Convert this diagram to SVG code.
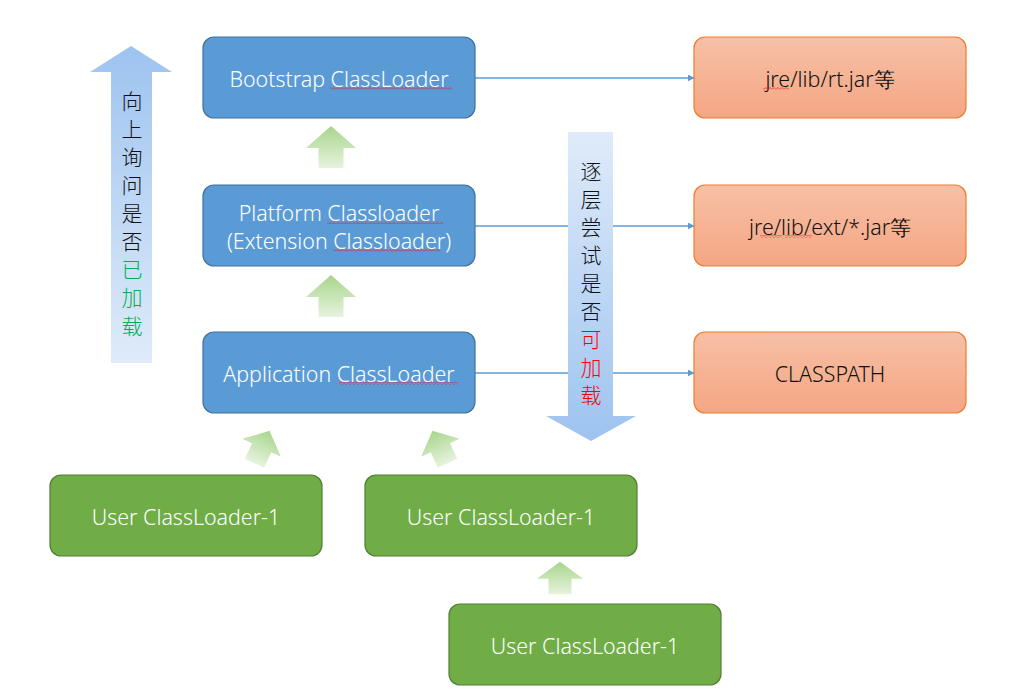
<svg xmlns="http://www.w3.org/2000/svg" width="1031" height="696" viewBox="0 0 1031 696">
<defs>
<style>
.blue{fill:#5B9BD5;stroke:#41719C;stroke-width:1.2}
.orange{fill:url(#og);stroke:#ED7D31;stroke-width:1.2}
.green{fill:#70AD47;stroke:#507E32;stroke-width:1.2}
.tw{font-family:"Noto Sans","Open Sans","Liberation Sans",sans-serif;font-size:21.4px;font-weight:300;fill:#FFFFFF;text-anchor:middle;dominant-baseline:central}
.tb{font-family:"Noto Sans","Open Sans","Liberation Sans",sans-serif;font-size:21.4px;font-weight:300;fill:#111111;text-anchor:middle;dominant-baseline:central}
.cjk{font-family:"Noto Sans CJK SC","Noto Sans",sans-serif;font-size:21px;font-weight:300;fill:#111111;text-anchor:middle;dominant-baseline:central}
.conn{stroke:#5B9BD5;stroke-width:1.3;fill:none;marker-end:url(#ah)}
.sq{fill:url(#squig)}
</style>
<linearGradient id="og" x1="0" y1="0" x2="0" y2="1">
<stop offset="0" stop-color="#F7C0A6"/>
<stop offset="1" stop-color="#F4A683"/>
</linearGradient>
<linearGradient id="upg" x1="0" y1="0" x2="0" y2="1">
<stop offset="0" stop-color="#9DC3F0"/>
<stop offset="1" stop-color="#DFEBF9"/>
</linearGradient>
<linearGradient id="dng" x1="0" y1="0" x2="0" y2="1">
<stop offset="0" stop-color="#DFEBF9"/>
<stop offset="1" stop-color="#9DC3F0"/>
</linearGradient>
<linearGradient id="gg" x1="0" y1="0" x2="0" y2="1">
<stop offset="0" stop-color="#A8D58C"/>
<stop offset="1" stop-color="#E6F3DE"/>
</linearGradient>
<path id="uparrow" d="M0,-21 L25,1 L12.5,1 L12.5,21 L-12.5,21 L-12.5,1 L-25,1 Z" fill="url(#gg)"/>
<marker id="ah" viewBox="0 0 10 10" refX="9" refY="5" markerWidth="7" markerHeight="7" markerUnits="userSpaceOnUse" orient="auto">
<path d="M0,0 L10,5 L0,10 Z" fill="#5B9BD5"/>
</marker>
<pattern id="squig" x="0" y="0" width="4" height="3" patternUnits="userSpaceOnUse">
<polyline points="0,2.5 2,0.5 4,2.5" fill="none" stroke="#E02020" stroke-width="0.8"/>
</pattern>
</defs>
<rect width="1031" height="696" fill="#FFFFFF"/>

<g id="connectors">
<line class="conn" x1="475" y1="78" x2="694" y2="78"/>
<line class="conn" x1="475" y1="226" x2="694" y2="226"/>
<line class="conn" x1="475" y1="373" x2="694" y2="373"/>
</g>

<g id="arrow-up-ask">
<path d="M131,46 L172,72 L152,72 L152,363 L111,363 L111,72 L90,72 Z" fill="url(#upg)"/>
<text class="cjk" x="132" y="100">向</text>
<text class="cjk" x="132" y="128">上</text>
<text class="cjk" x="132" y="156">询</text>
<text class="cjk" x="132" y="184">问</text>
<text class="cjk" x="132" y="212">是</text>
<text class="cjk" x="132" y="240">否</text>
<text class="cjk" x="132" y="268" style="fill:#00B050">已</text>
<text class="cjk" x="132" y="296" style="fill:#00B050">加</text>
<text class="cjk" x="132" y="325" style="fill:#00B050">载</text>
</g>

<g id="arrow-down-try">
<path d="M568,132 L613,132 L613,416 L636,416 L591,441 L546,416 L568,416 Z" fill="url(#dng)"/>
<text class="cjk" x="591" y="170">逐</text>
<text class="cjk" x="591" y="198">层</text>
<text class="cjk" x="591" y="226">尝</text>
<text class="cjk" x="591" y="254">试</text>
<text class="cjk" x="591" y="282">是</text>
<text class="cjk" x="591" y="310">否</text>
<text class="cjk" x="591" y="338" style="fill:#FF0000">可</text>
<text class="cjk" x="591" y="366" style="fill:#FF0000">加</text>
<text class="cjk" x="591" y="394" style="fill:#FF0000">载</text>
</g>

<g id="small-arrows">
<use href="#uparrow" transform="translate(331,147)"/>
<use href="#uparrow" transform="translate(331,296)"/>
<use href="#uparrow" transform="translate(262,447) rotate(25) scale(0.85)"/>
<use href="#uparrow" transform="translate(440,447) rotate(-25) scale(0.85)"/>
<use href="#uparrow" transform="translate(560,578) scale(0.92,0.77)"/>
</g>

<g id="bootstrap">
<rect class="blue" x="203" y="37" width="272" height="81" rx="11"/>
<text class="tw" x="339" y="78">Bootstrap ClassLoader</text>
<rect class="sq" x="330" y="87" width="122" height="3"/>
</g>

<g id="platform">
<rect class="blue" x="203" y="185" width="272" height="81" rx="11"/>
<text class="tw" x="339" y="212">Platform Classloader</text>
<text class="tw" x="339" y="240">(Extension Classloader)</text>
<rect class="sq" x="327" y="221" width="116" height="3"/>
<rect class="sq" x="333" y="249" width="107" height="3"/>
</g>

<g id="application">
<rect class="blue" x="203" y="332" width="272" height="81" rx="11"/>
<text class="tw" x="339" y="373">Application ClassLoader</text>
<rect class="sq" x="339" y="382" width="119" height="3"/>
</g>

<g id="rtjar">
<rect class="orange" x="694" y="37" width="272" height="81" rx="11"/>
<text class="tb" x="830" y="78">jre/lib/rt.jar等</text>
<rect class="sq" x="763" y="87" width="26" height="3"/>
</g>

<g id="extjar">
<rect class="orange" x="694" y="185" width="272" height="81" rx="11"/>
<text class="tb" x="830" y="226">jre/lib/ext/*.jar等</text>
<rect class="sq" x="760" y="235" width="22" height="3"/>
<rect class="sq" x="785" y="235" width="27" height="3"/>
</g>

<g id="classpath">
<rect class="orange" x="694" y="332" width="272" height="81" rx="11"/>
<text class="tb" x="830" y="373">CLASSPATH</text>
</g>

<g id="user1">
<rect class="green" x="50" y="475" width="272" height="81" rx="11"/>
<text class="tw" x="186" y="516">User ClassLoader-1</text>
</g>

<g id="user2">
<rect class="green" x="365" y="475" width="272" height="81" rx="11"/>
<text class="tw" x="501" y="516">User ClassLoader-1</text>
</g>

<g id="user3">
<rect class="green" x="449" y="604" width="272" height="81" rx="11"/>
<text class="tw" x="585" y="645">User ClassLoader-1</text>
</g>
</svg>
